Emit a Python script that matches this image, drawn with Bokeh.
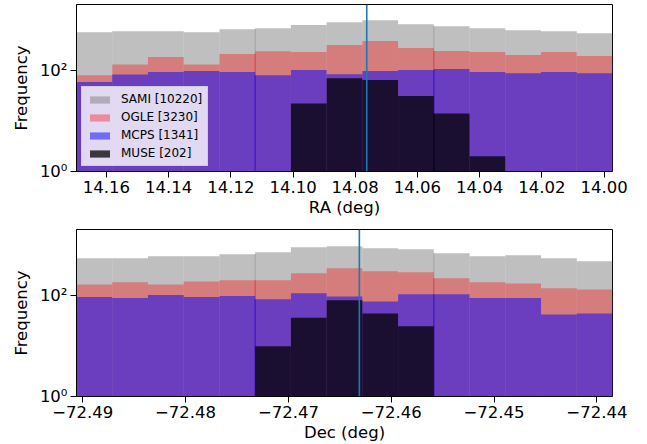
import numpy as np
from bokeh.plotting import figure
from bokeh.models import Range1d, FixedTicker, Legend, LegendItem, Span
from bokeh.layouts import column
from bokeh.embed import file_html
from bokeh.resources import INLINE

# ---------------- data ----------------
names = ["SAMI", "OGLE", "MCPS", "MUSE"]
totals = [10220, 3230, 1341, 202]
colors = ["gray", "red", "blue", "black"]
alphas = [0.5, 0.35, 0.5, 0.75]

# RA histograms (15 bins, ascending RA)
ra_min, ra_max = 13.9973, 14.1696
ra_sami = [540, 592, 620, 679, 743, 815, 977, 892, 789, 679, 649, 565, 592, 592, 565]
ra_ogle = [192, 231, 201, 231, 241, 277, 380, 317, 231, 238, 210, 131, 183, 131, 80]
ra_mcps = [88, 93, 88, 93, 106, 101, 97, 84, 101, 80, 93, 97, 93, 83, 59]
ra_muse = [0, 0, 0, 2, 14, 31, 64, 70, 22, 0, 0, 0, 0, 0, 0]
ra_target = 14.0763
ra_ticks = [14.16, 14.14, 14.12, 14.10, 14.08, 14.06, 14.04, 14.02, 14.00]
ra_tick_labels = ["14.16", "14.14", "14.12", "14.10", "14.08", "14.06", "14.04", "14.02", "14.00"]

# Dec histograms (15 bins, ascending Dec)
dec_min, dec_max = -72.49061, -72.43848
dec_sami = [561, 561, 615, 615, 674, 739, 929, 973, 888, 848, 706, 615, 644, 561, 489]
dec_ogle = [170, 187, 170, 195, 205, 205, 282, 355, 309, 295, 224, 187, 178, 142, 135]
dec_mcps = [95, 91, 104, 95, 100, 86, 113, 98, 78, 108, 108, 91, 91, 43, 45]
dec_muse = [0, 0, 0, 0, 0, 10, 37, 82, 45, 25, 0, 0, 0, 0, 0]
dec_target = -72.4631
dec_ticks = [-72.49, -72.48, -72.47, -72.46, -72.45, -72.44]
dec_tick_labels = ["\u221272.49", "\u221272.48", "\u221272.47", "\u221272.46", "\u221272.45", "\u221272.44"]

y_ticks = [1, 100]
y_tick_labels = ["10\u2070", "10\u00b2"]
seam_edges = [5, 10]

FONT = "DejaVu Sans"


def panel(counts_list, lo, hi, reverse, ticks, tick_labels, target, xlabel,
          ytop, height, border_top, border_bottom, with_legend):
    nb = len(counts_list[0])
    edges = np.linspace(lo, hi, nb + 1)
    xr = Range1d(hi, lo) if reverse else Range1d(lo, hi)
    p = figure(width=647, height=height, x_range=xr, y_range=Range1d(1, ytop),
               y_axis_type="log", output_backend="svg", toolbar_location=None,
               min_border_left=76, min_border_right=35,
               min_border_top=border_top, min_border_bottom=border_bottom)
    items = []
    for name, total, counts, color, alpha in zip(names, totals, counts_list, colors, alphas):
        c = np.asarray(counts, dtype=float)
        m = c > 0
        r = p.quad(left=edges[:-1][m], right=edges[1:][m], bottom=1, top=c[m],
                   fill_color=color, fill_alpha=alpha, line_color=None)
        sx, sy = [], []
        for k in seam_edges:
            h = min(c[k - 1], c[k])
            if h > 0:
                sx.append(edges[k])
                sy.append(h)
        if sx:
            p.segment(x0=sx, y0=1, x1=sx, y1=sy, line_color=color,
                      line_alpha=alpha, line_width=1)
        items.append(LegendItem(label=f"{name} [{total}]", renderers=[r]))

    p.add_layout(Span(location=target, dimension="height", line_color="#1f77b4",
                      line_width=1.6))

    p.grid.visible = False
    p.outline_line_color = "black"
    p.outline_line_width = 1
    p.background_fill_color = "white"
    p.border_fill_color = "white"

    p.xaxis.ticker = FixedTicker(ticks=ticks, minor_ticks=[])
    p.xaxis.major_label_overrides = {t: l for t, l in zip(ticks, tick_labels)}
    p.yaxis.ticker = FixedTicker(ticks=y_ticks, minor_ticks=[])
    p.yaxis.major_label_overrides = {t: l for t, l in zip(y_ticks, y_tick_labels)}
    p.xaxis.axis_label = xlabel
    p.yaxis.axis_label = "Frequency"
    for ax in (p.xaxis, p.yaxis):
        ax.axis_line_color = "black"
        ax.major_tick_line_color = "black"
        ax.major_tick_in = 0
        ax.major_tick_out = 6
        ax.minor_tick_in = 0
        ax.minor_tick_out = 0
        ax.major_label_text_font = FONT
        ax.major_label_text_font_size = "16.5px"
        ax.major_label_text_color = "black"
        ax.axis_label_text_font = FONT
        ax.axis_label_text_font_size = "16.5px"
        ax.axis_label_text_font_style = "normal"
        ax.axis_label_text_color = "black"
        ax.major_label_standoff = 3
        ax.axis_label_standoff = 2
    p.yaxis.major_label_standoff = 3
    p.yaxis.axis_label_standoff = 6

    if with_legend:
        leg = Legend(items=items, location=(5, 5),
                     background_fill_color="white", background_fill_alpha=0.8,
                     border_line_color="#cccccc", border_line_alpha=0.8,
                     border_line_width=1,
                     label_text_font=FONT, label_text_font_size="12px",
                     label_text_color="black",
                     glyph_width=25, glyph_height=9, label_height=14,
                     spacing=4, padding=5, margin=0, label_standoff=9)
        p.add_layout(leg)
    return p


top = panel([ra_sami, ra_ogle, ra_mcps, ra_muse], ra_min, ra_max, True,
            ra_ticks, ra_tick_labels, ra_target, "RA (deg)",
            2000, 222, 4, 51, True)
bottom = panel([dec_sami, dec_ogle, dec_mcps, dec_muse], dec_min, dec_max, False,
               dec_ticks, dec_tick_labels, dec_target, "Dec (deg)",
               2100, 222, 7, 48, False)

layout = column(top, bottom, spacing=0)
open("out.html", "w").write(file_html(layout, INLINE))
